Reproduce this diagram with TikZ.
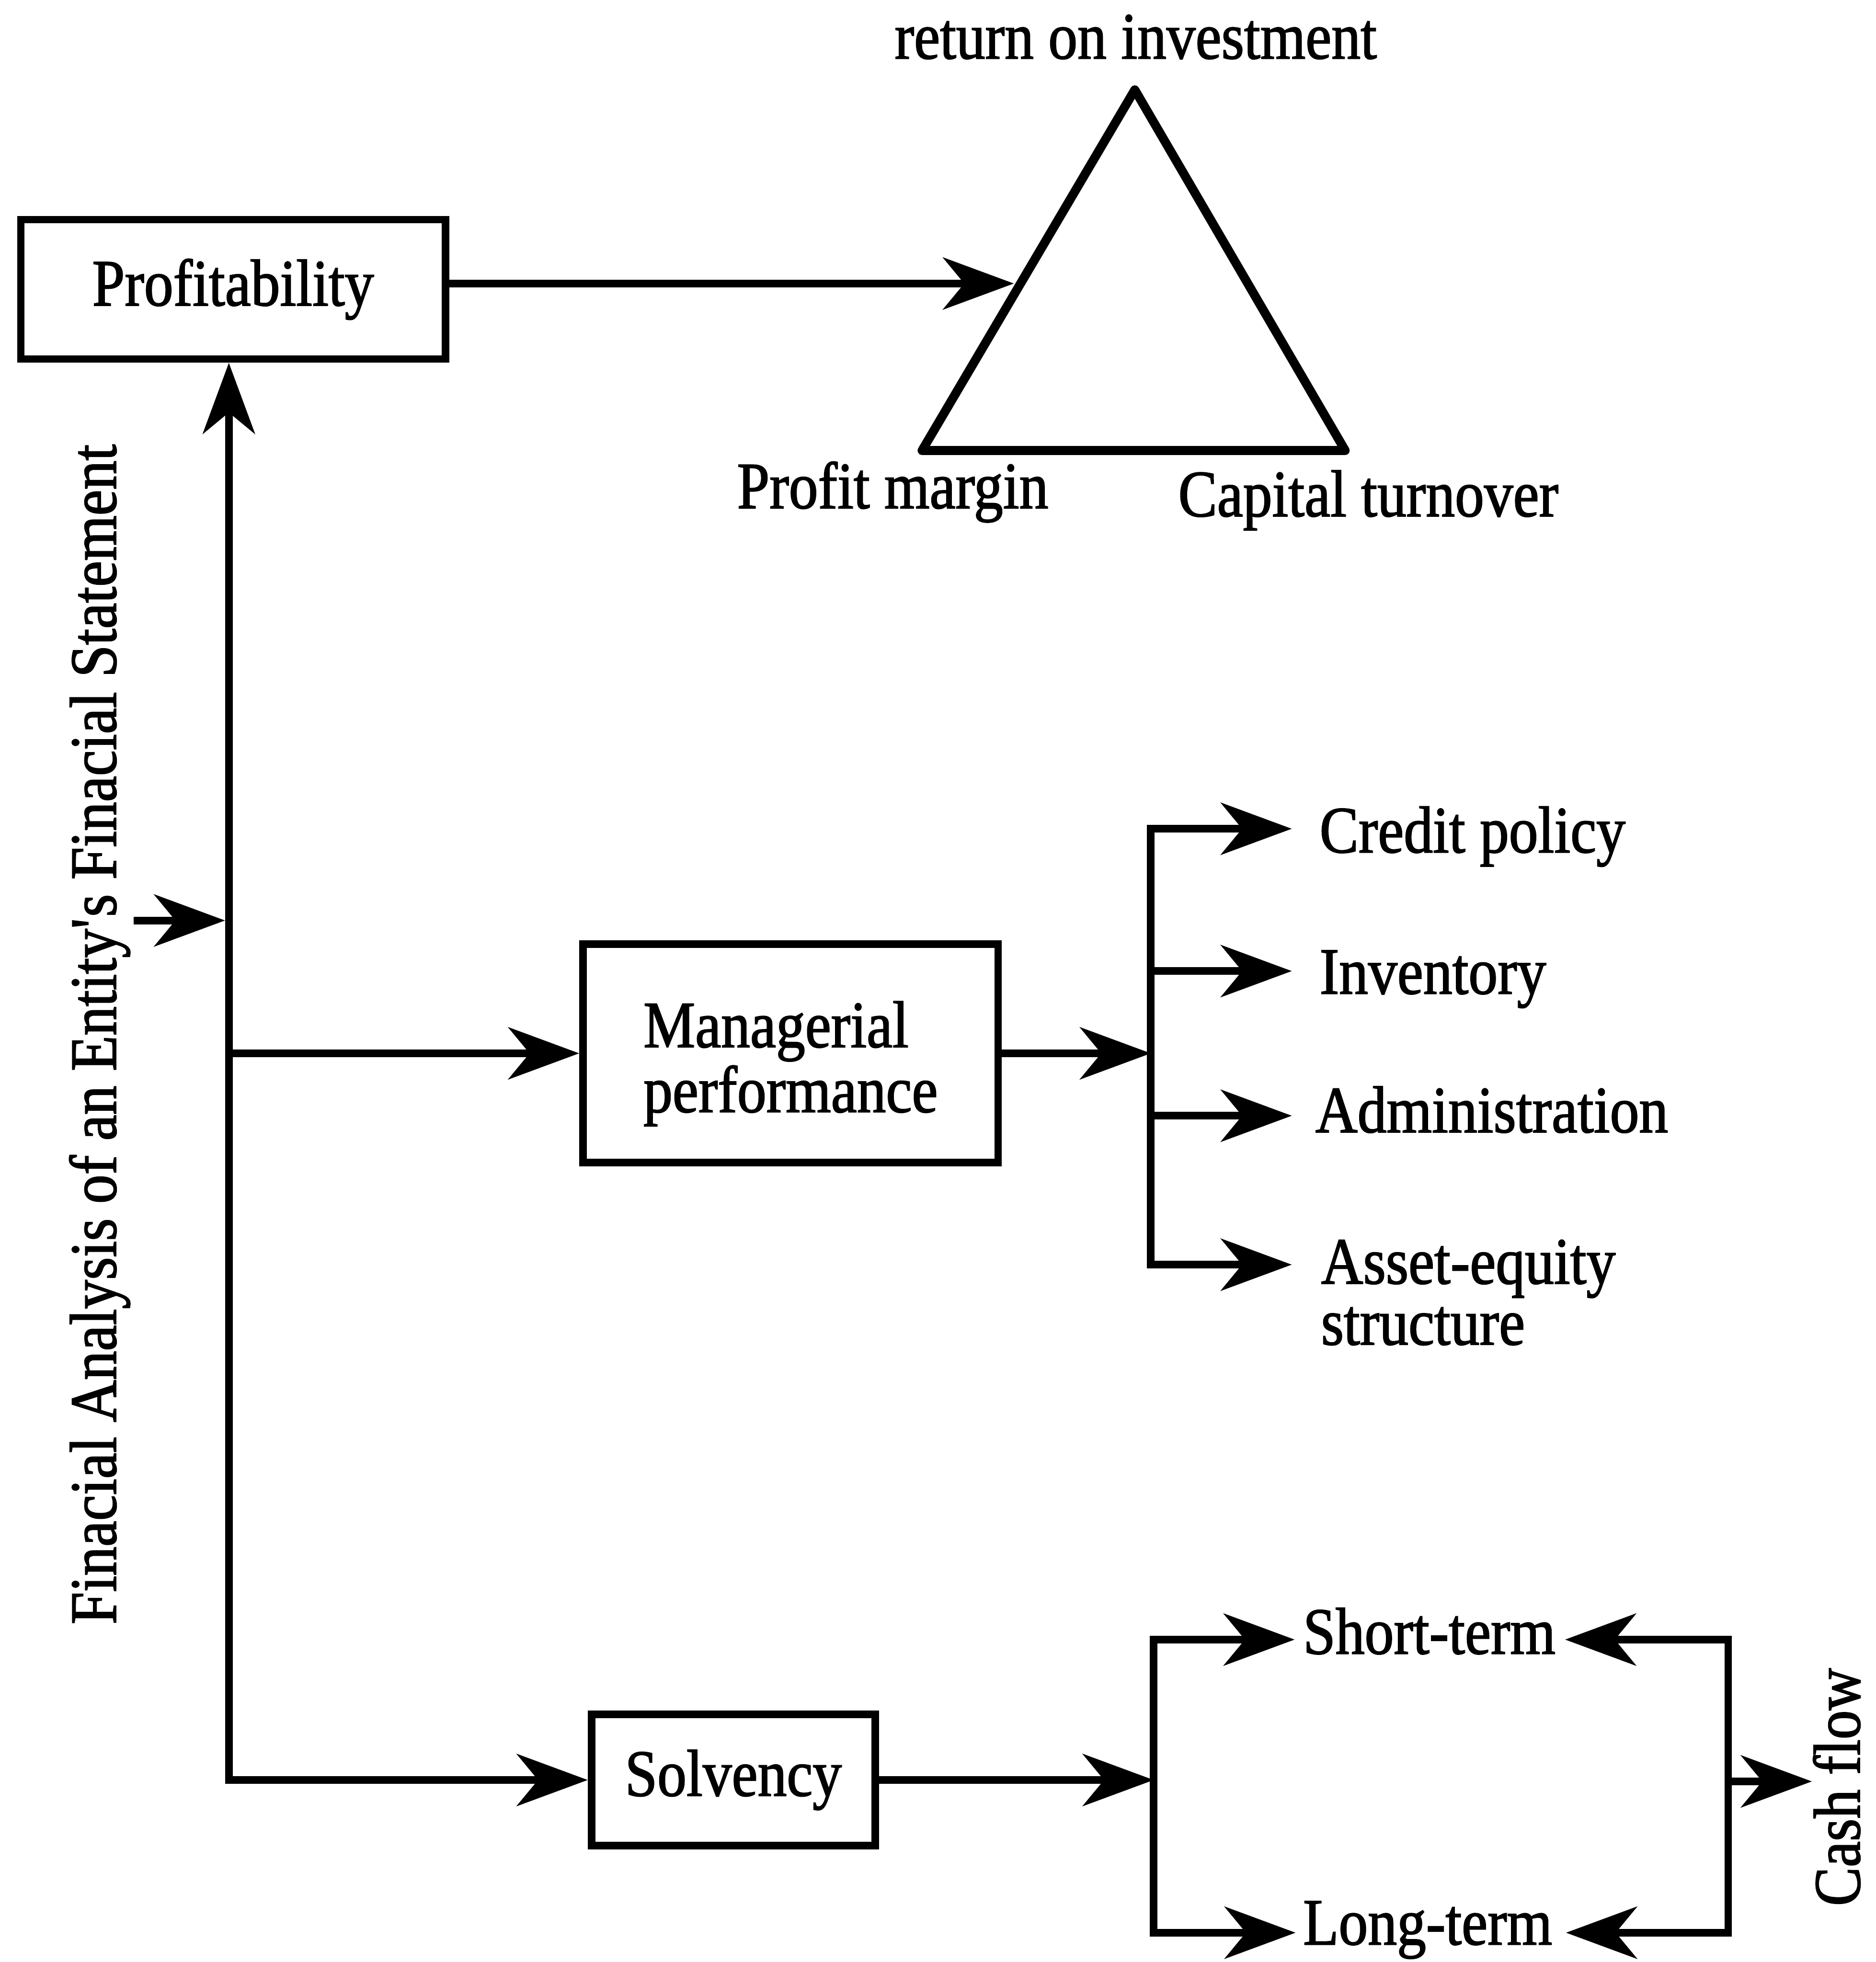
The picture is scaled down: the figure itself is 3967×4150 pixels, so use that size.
\documentclass[tikz,border=0pt]{standalone}
\usepackage{fontspec}
\setmainfont{Liberation Serif}[FakeStretch=0.88,FakeBold=1.5]
\usetikzlibrary{arrows.meta,calc}
\begin{document}
\begin{tikzpicture}[x=0.1pt,y=-0.1pt,
  every node/.style={font=\fontsize{14pt}{12.9pt}\selectfont, inner sep=0pt},
  box/.style={draw, line width=1.6pt},
  link/.style={line width=1.6pt},
  >={Stealth[length=15pt,width=11pt,inset=4.5pt]}]
\useasboundingbox (0,0) rectangle (3967,4150);

% helper coordinates: vertical rails
\coordinate (spx) at (484,0);
\coordinate (mspx) at (2434,0);
\coordinate (sspx) at (2440,0);
\coordinate (rspx) at (3655,0);

% boxes
\node[box, minimum width=89.8pt, minimum height=29.5pt] (prof) at (493,612) {Profitability};
\node[box, minimum width=87.8pt, minimum height=46.2pt] (manag) at (1672,2228)
  {\raisebox{1.3pt}[0pt][0pt]{\begin{tabular}[t]{@{}l@{}}Managerial\\performance\end{tabular}}};
\node[box, minimum width=60.0pt, minimum height=27.8pt] (solv) at (1551,3765) {Solvency};

% return-on-investment triangle
\coordinate (apex) at (2400,190);
\coordinate (tbl) at (1950,953);
\coordinate (tbr) at (2845,953);
\draw[line width=1.9pt, line join=round] (apex) -- (tbl) -- (tbr) -- cycle;
\coordinate (roiIn) at ($(apex)!0.537!(tbl)+(-14,0)$);
\node[anchor=base] (roi) at (2402,124) {return on investment};
\node[anchor=base] (pm) at (1888,1075) {Profit margin};
\node[anchor=base] (ct) at (2894,1092) {Capital turnover};

% side title
\node[rotate=90, anchor=base] (title) at (245,2188) {Finacial Analysis of an Entity\textquotesingle s Finacial Statement};

% managerial performance items
\node[anchor=base west] (credit) at (2789,1803) {Credit policy};
\node[anchor=base west] (inv) at (2789,2102) {Inventory};
\node[anchor=base west] (adm) at (2780,2395) {Administration};
\node[anchor=west, align=left] (asset) at (2792,2734) {Asset-equity\\structure};
\coordinate (credTip) at (2732,1753);
\coordinate (invTip) at (2732,2054);
\coordinate (admTip) at (2732,2360);
\coordinate (assetTip) at (2732,2675);

% solvency items
\node[anchor=base west] (short) at (2754,3498) {Short-term};
\node[anchor=base west] (long) at (2754,4113) {Long-term};
\node[rotate=90, anchor=base] (cash) at (3933,3780) {Cash flow};
\coordinate (shortTip) at (2738,3468);
\coordinate (longTip) at (2740,4088);
\coordinate (shortTipR) at (3310,3468);
\coordinate (longTipR) at (3312,4088);
\coordinate (cashTip) at (3832,3768);

% entry arrow and main rail
\coordinate (entry) at (283,1947);
\coordinate (sBot) at (solv.west -| spx);
\draw[link, ->, shorten >=0.8pt] (entry) -- (entry -| spx);
\draw[link, <->] (prof.south -| spx) -- (sBot) -- (solv.west);
\draw[link, ->] (manag.west -| spx) -- (manag.west);

% profitability to triangle
\draw[link, ->] (prof.east |- roiIn) -- (roiIn);

% managerial branches
\draw[link, ->] (manag.east) -- (manag.east -| mspx);
\draw[link, <->] (assetTip) -- (mspx |- assetTip) -- (mspx |- credTip) -- (credTip);
\draw[link, ->] (mspx |- invTip) -- (invTip);
\draw[link, ->] (mspx |- admTip) -- (admTip);

% solvency branches
\draw[link, ->] (solv.east) -- (solv.east -| sspx);
\draw[link, <->] (longTip) -- (sspx |- longTip) -- (sspx |- shortTip) -- (shortTip);
\draw[link, <->] (longTipR) -- (rspx |- longTipR) -- (rspx |- shortTipR) -- (shortTipR);
\draw[link, ->] (cashTip -| rspx) -- (cashTip);
\end{tikzpicture}
\end{document}
